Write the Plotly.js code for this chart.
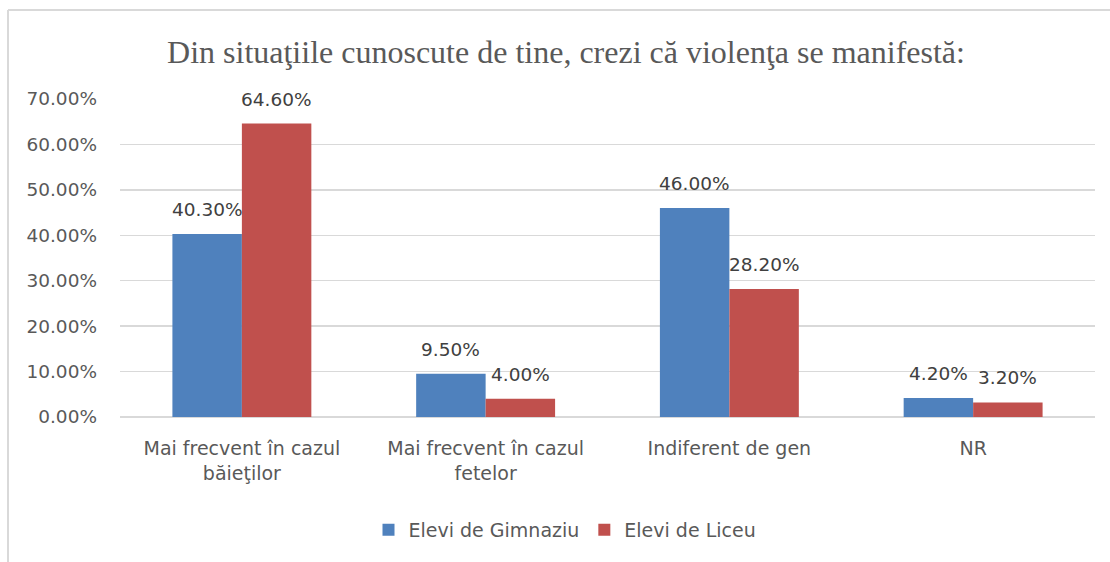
<!DOCTYPE html>
<html>
<head>
<meta charset="utf-8">
<script src="https://cdn.plot.ly/plotly-3.0.1.min.js"></script>
<style>html,body{margin:0;padding:0;background:#fff;}</style>
</head>
<body>
<div id="chart" style="width:1110px;height:562px;"></div>
<script>
const categories = ["Mai frecvent în cazul<br>băieţilor", "Mai frecvent în cazul<br>fetelor", "Indiferent de gen", "NR"];
const seriesNames = ["Elevi de Gimnaziu", "Elevi de Liceu"];
const gimnaziu = [0.403, 0.095, 0.46, 0.042];
const liceu = [0.646, 0.04, 0.282, 0.032];
const colors = ["#4F81BD", "#C0504D"];
const chartTitle = "Din situaţiile cunoscute de tine, crezi că violenţa se manifestă:";

const W = 1110, H = 562;
const M = {l: 120, r: 15, t: 99, b: 145};
const bargap = 0.43;
const plotW = W - M.l - M.r, plotH = H - M.t - M.b;
const barW = (plotW / categories.length) * (1 - bargap) / 2;

const px = x => (x - M.l) / plotW;
const py = y => (H - M.b - y) / plotH;

const numFont = {family: "DejaVu Sans", size: 18.5, color: "#595959"};
const txtFont = {family: "DejaVu Sans", size: 19, color: "#595959"};

const series = [gimnaziu, liceu];
const traces = series.map((vals, i) => ({
  type: "bar",
  name: seriesNames[i],
  x: categories,
  y: vals,
  marker: {color: colors[i]},
  hoverinfo: "skip"
}));

const annotations = [];
series.forEach((vals, i) => {
  vals.forEach((v, j) => {
    annotations.push({
      x: categories[j], y: v, xref: "x", yref: "y",
      xshift: (i === 0 ? -1 : 1) * barW / 2,
      yshift: 12,
      yanchor: "bottom", xanchor: "center",
      showarrow: false,
      text: (v * 100).toFixed(2) + "%",
      font: {family: "DejaVu Sans", size: 18.5, color: "#404040"}
    });
  });
});

const layout = {
  width: W, height: H,
  margin: M,
  paper_bgcolor: "#ffffff",
  plot_bgcolor: "#ffffff",
  barmode: "group",
  bargap: bargap,
  bargroupgap: 0,
  showlegend: true,
  title: {
    text: chartTitle,
    font: {family: "Liberation Serif", size: 32, color: "#595959"},
    x: 566 / W, xanchor: "center", xref: "container",
    y: 1 - 52 / H, yanchor: "middle", yref: "container"
  },
  xaxis: {
    type: "category",
    showgrid: false,
    showline: false,
    zeroline: false,
    ticks: "",
    tickfont: txtFont,
    ticklabelstandoff: 18,
    fixedrange: true
  },
  yaxis: {
    range: [0, 0.7],
    dtick: 0.1,
    tick0: 0,
    tickformat: ".2%",
    showgrid: true,
    gridcolor: "#d9d9d9",
    gridwidth: 1.5,
    zeroline: true,
    zerolinecolor: "#d9d9d9",
    zerolinewidth: 1.5,
    showline: false,
    ticks: "",
    tickfont: numFont,
    ticklabelstandoff: 22,
    fixedrange: true
  },
  legend: {
    orientation: "h",
    x: px(565), xanchor: "center",
    y: py(530), yanchor: "middle",
    font: txtFont,
    itemclick: false, itemdoubleclick: false
  },
  annotations: annotations,
  shapes: [
    {type: "line", xref: "paper", yref: "paper", x0: px(8), x1: px(8), y0: py(10), y1: py(H), line: {color: "#d9d9d9", width: 2}},
    {type: "line", xref: "paper", yref: "paper", x0: px(8), x1: px(W), y0: py(10), y1: py(10), line: {color: "#d9d9d9", width: 2}}
  ]
};

Plotly.newPlot("chart", traces, layout, {staticPlot: true, displayModeBar: false});
</script>
</body>
</html>
